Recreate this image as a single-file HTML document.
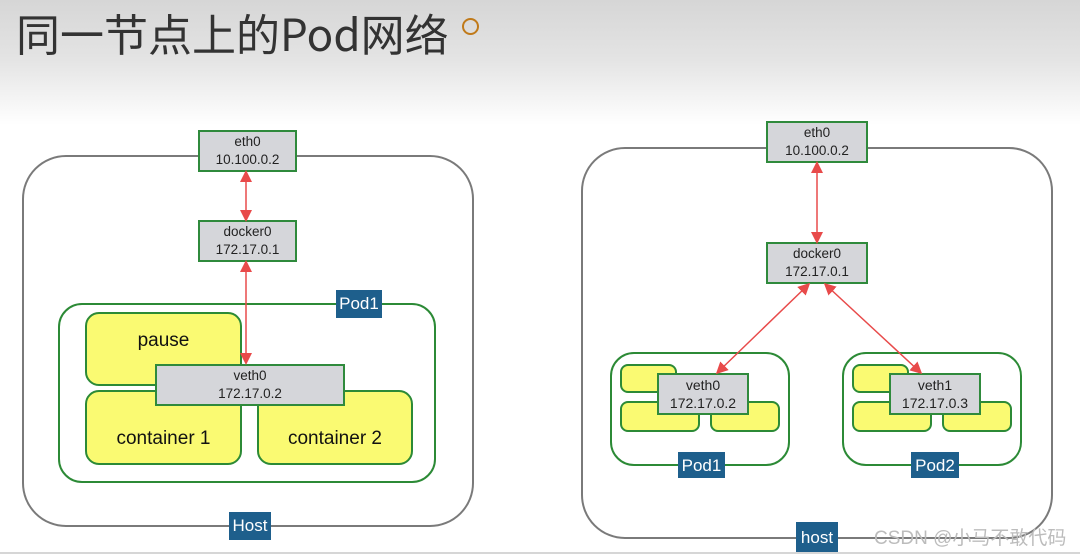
<!DOCTYPE html>
<html><head><meta charset="utf-8"><style>
body{margin:0;width:1080px;height:552px;overflow:hidden;position:relative;font-family:"Liberation Sans","Noto Sans CJK SC",sans-serif;background:linear-gradient(#d6d6d6 0px,#e4e4e4 60px,#fff 125px,#fff);}
div{position:absolute;box-sizing:border-box}
.host{border:2px solid #7a7a7a;border-radius:44px;background:#fff}
.nic{background:#d5d6da;border:2px solid #2f8a3c;text-align:center;font-size:13.5px;line-height:18px;color:#222;padding-top:1px}
.pod{border:2px solid #2c8a36;border-radius:24px}
.y{background:#fafa72;border:2px solid #2c8a36;border-radius:14px;font-size:19px;color:#111;text-align:center}
.lbl{background:#1e5f8c;color:#fff;font-size:17px;text-align:center;line-height:27px}
</style></head><body>
<div style="left:16px;top:2px;font-size:44px;color:#333;line-height:60px;font-family:'Noto Sans CJK SC','Liberation Sans',sans-serif;white-space:nowrap">同一节点上的Pod网络</div>
<div style="left:462px;top:18px;width:17px;height:17px;border:2px solid #c07a1a;border-radius:50%"></div>

<!-- left -->
<div class="host" style="left:22px;top:155px;width:452px;height:372px"></div>
<div class="nic" style="left:198px;top:130px;width:99px;height:42px">eth0<br>10.100.0.2</div>
<div class="nic" style="left:198px;top:220px;width:99px;height:42px">docker0<br>172.17.0.1</div>
<div class="pod" style="left:58px;top:303px;width:378px;height:180px;background:#fff"></div>
<div class="lbl" style="left:336px;top:290px;width:46px;height:28px">Pod1</div>
<div class="y" style="left:85px;top:312px;width:157px;height:74px;padding-top:16px">pause</div>
<div class="y" style="left:85px;top:390px;width:157px;height:75px;padding-top:36px">container 1</div>
<div class="y" style="left:257px;top:390px;width:156px;height:75px;padding-top:36px">container 2</div>
<div class="nic" style="left:155px;top:364px;width:190px;height:42px">veth0<br>172.17.0.2</div>
<div class="lbl" style="left:229px;top:512px;width:42px;height:28px">Host</div>

<!-- right -->
<div class="host" style="left:581px;top:147px;width:472px;height:392px"></div>
<div class="nic" style="left:766px;top:121px;width:102px;height:42px">eth0<br>10.100.0.2</div>
<div class="nic" style="left:766px;top:242px;width:102px;height:42px">docker0<br>172.17.0.1</div>
<div class="pod" style="left:610px;top:352px;width:180px;height:114px"></div>
<div class="pod" style="left:842px;top:352px;width:180px;height:114px"></div>
<div class="y" style="left:620px;top:364px;width:57px;height:29px;border-radius:8px"></div>
<div class="y" style="left:620px;top:401px;width:80px;height:31px;border-radius:8px"></div>
<div class="y" style="left:710px;top:401px;width:70px;height:31px;border-radius:8px"></div>
<div class="y" style="left:852px;top:364px;width:57px;height:29px;border-radius:8px"></div>
<div class="y" style="left:852px;top:401px;width:80px;height:31px;border-radius:8px"></div>
<div class="y" style="left:942px;top:401px;width:70px;height:31px;border-radius:8px"></div>
<div class="nic" style="left:657px;top:373px;width:92px;height:42px;font-size:14px">veth0<br>172.17.0.2</div>
<div class="nic" style="left:889px;top:373px;width:92px;height:42px;font-size:14px">veth1<br>172.17.0.3</div>
<div class="lbl" style="left:678px;top:452px;width:47px;height:26px">Pod1</div>
<div class="lbl" style="left:911px;top:452px;width:48px;height:26px">Pod2</div>
<div class="lbl" style="left:796px;top:522px;width:42px;height:30px;line-height:32px">host</div>
<div style="left:874px;top:523px;font-size:19px;color:#bcbcbc;white-space:nowrap">CSDN @小马不敢代码</div>

<svg width="1080" height="552" style="position:absolute;left:0;top:0">
<defs><marker id="a" markerWidth="8" markerHeight="8" refX="6" refY="4" orient="auto-start-reverse"><path d="M0,0 L8,4 L0,8z" fill="#e84a4a"/></marker></defs>
<g stroke="#e84a4a" stroke-width="1.5" fill="none">
<line x1="246" y1="173" x2="246" y2="219" marker-start="url(#a)" marker-end="url(#a)"/>
<line x1="246" y1="263" x2="246" y2="362" marker-start="url(#a)" marker-end="url(#a)"/>
<line x1="817" y1="164" x2="817" y2="241" marker-start="url(#a)" marker-end="url(#a)"/>
<line x1="808" y1="285" x2="718" y2="372" marker-start="url(#a)" marker-end="url(#a)"/>
<line x1="826" y1="285" x2="920" y2="372" marker-start="url(#a)" marker-end="url(#a)"/>
</g></svg>
</body></html>
